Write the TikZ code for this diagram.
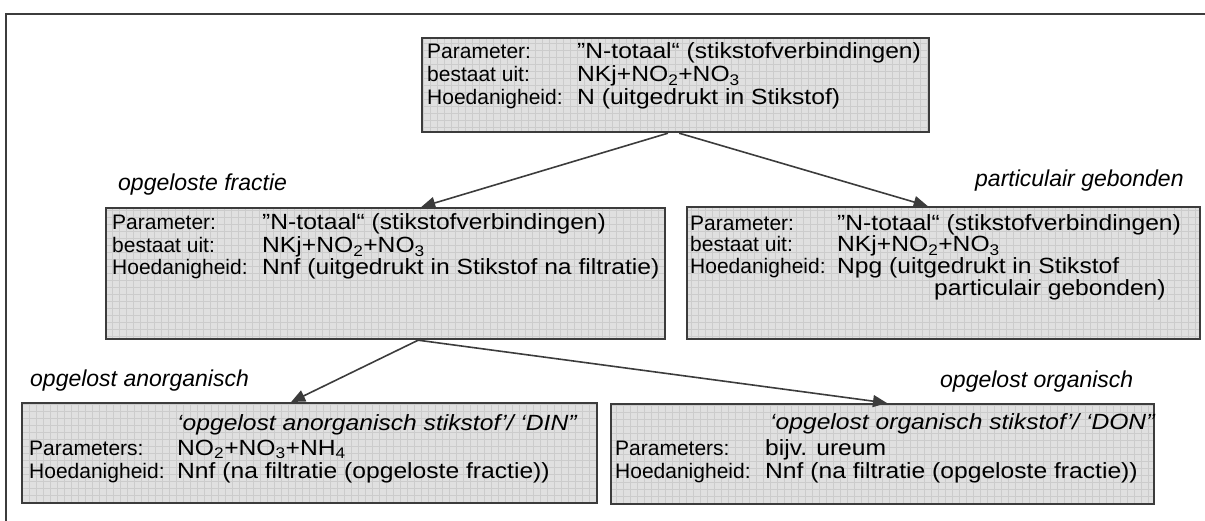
\documentclass[tikz,border=0pt]{standalone}
\usepackage{fontspec}
\setmainfont{Liberation Sans}
\newfontfamily\valfont[FakeStretch=1.12]{Liberation Sans}
\usetikzlibrary{arrows.meta,calc}
\definecolor{framec}{HTML}{3C3C3C}
\definecolor{boxfill}{HTML}{E0E0E0}
\definecolor{gridc}{HTML}{CCCCCC}
\tikzset{
  box/.style={draw=framec, line width=2.2pt, fill=boxfill, rectangle, inner sep=0pt, anchor=north west,
    path picture={\draw[gridc, line width=0.35pt] (path picture bounding box.south west) grid[step=7pt] (path picture bounding box.north east);}},
  lbl/.style={anchor=base west, inner sep=0pt, font=\fontsize{21}{24}\selectfont},
  val/.style={anchor=base west, inner sep=0pt, font=\valfont\fontsize{22}{25}\selectfont},
  head/.style={anchor=base west, inner sep=0pt, font=\valfont\fontsize{22}{25}\selectfont\itshape},
  captext/.style={anchor=base west, inner sep=0pt, font=\fontsize{23}{26}\selectfont\itshape},
  arr/.style={draw=framec, line width=1.6pt, -{Triangle[length=14pt,width=12pt]}},
  outer/.style={draw=framec, line width=2pt},
}
\begin{document}
\begin{tikzpicture}[x=1pt,y=-1pt]
\useasboundingbox (0,0) rectangle (1205,521);
% outer frame
\coordinate (fa) at (6,521);
\coordinate (fb) at (6,14);
\coordinate (fc) at (1205,14);
\draw[outer] (fa) -- (fb) -- (fc);

% boxes
\node[box, minimum width=507pt, minimum height=94pt] (top) at (421,37) {};
\node[box, minimum width=559pt, minimum height=131pt] (ml) at (105,207) {};
\node[box, minimum width=513pt, minimum height=132pt] (mr) at (686,206) {};
\node[box, minimum width=575pt, minimum height=100pt] (bl) at (21,402) {};
\node[box, minimum width=543pt, minimum height=100pt] (br) at (610,403) {};

% top box text
\node[lbl] (tl1) at (427,58.5) {Parameter:};
\node[val] (tv1) at (577,58.5) {”N-totaal“ (stikstofverbindingen)};
\node[lbl] (tl2) at (427,82) {bestaat uit:};
\node[val] (tv2) at (577,82) {NKj+NO\textsubscript{2}+NO\textsubscript{3}};
\node[lbl] (tl3) at (427,105) {Hoedanigheid:};
\node[val] (tv3) at (577,105) {N (uitgedrukt in Stikstof)};

% middle left
\node[captext] (cml) at (118,191) {opgeloste fractie};
\node[lbl] (ml1) at (112,230) {Parameter:};
\node[val] (mv1) at (262,230) {”N-totaal“ (stikstofverbindingen)};
\node[lbl] (ml2) at (112,253) {bestaat uit:};
\node[val] (mv2) at (262,253) {NKj+NO\textsubscript{2}+NO\textsubscript{3}};
\node[lbl] (ml3) at (112,275) {Hoedanigheid:};
\node[val] (mv3) at (262,275) {Nnf (uitgedrukt in Stikstof na filtratie)};

% middle right
\node[captext] (cmr) at (975,187) {particulair gebonden};
\node[lbl] (rl1) at (690,231) {Parameter:};
\node[val] (rv1) at (837,231) {”N-totaal“ (stikstofverbindingen)};
\node[lbl] (rl2) at (690,252) {bestaat uit:};
\node[val] (rv2) at (837,252) {NKj+NO\textsubscript{2}+NO\textsubscript{3}};
\node[lbl] (rl3) at (690,274) {Hoedanigheid:};
\node[val] (rv3) at (837,274) {Npg (uitgedrukt in Stikstof};
\node[val] (rv4) at (934,296) {particulair gebonden)};

% bottom left
\node[captext] (cbl) at (30,386) {opgelost anorganisch};
\node[head] (bh) at (177,430) {‘opgelost anorganisch stikstof’/ ‘DIN”};
\node[lbl] (bl1) at (29,455) {Parameters:};
\node[val] (bv1) at (177,455) {NO\textsubscript{2}+NO\textsubscript{3}+NH\textsubscript{4}};
\node[lbl] (bl2) at (29,478) {Hoedanigheid:};
\node[val] (bv2) at (177,478) {Nnf (na filtratie (opgeloste fractie))};

% bottom right
\node[captext] (cbr) at (940,388) {opgelost organisch};
\node[head] (rh) at (770,429) {‘opgelost organisch stikstof’/ ‘DON”};
\node[lbl] (br1) at (615,455) {Parameters:};
\node[val] (brv1) at (765,455) {bijv. ureum};
\node[lbl] (br2) at (615,478) {Hoedanigheid:};
\node[val] (brv2) at (765,478) {Nnf (na filtratie (opgeloste fractie))};

% connectors
\draw[arr] ($(top.south west)!0.485!(top.south east)$) -- ($(ml.north west)!0.5635!(ml.north east)$);
\draw[arr] ($(top.south west)!0.507!(top.south east)$) -- ($(mr.north west)!0.469!(mr.north east)$);
\draw[arr] ($(ml.south west)!0.558!(ml.south east)$) -- ($(bl.north west)!0.468!(bl.north east)$);
\draw[arr] ($(ml.south west)!0.558!(ml.south east)$) -- ($(br.north west)!0.508!(br.north east)$);
\end{tikzpicture}
\end{document}
